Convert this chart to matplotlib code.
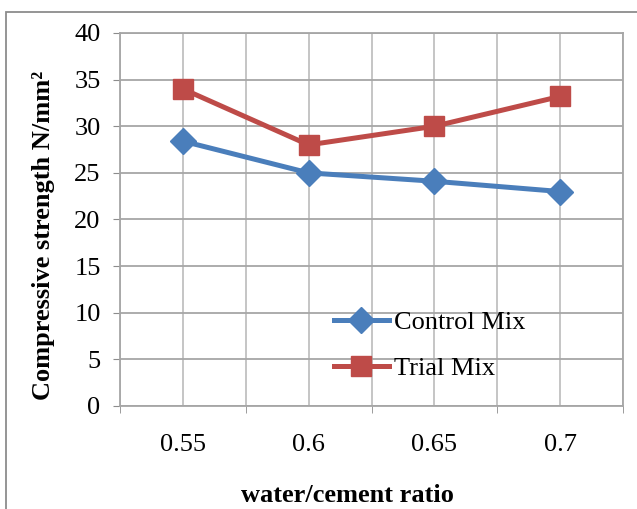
import matplotlib
matplotlib.use("Agg")
import matplotlib.pyplot as plt
from matplotlib.patches import Rectangle
from matplotlib.ticker import MultipleLocator

categories = ["0.55", "0.6", "0.65", "0.7"]
control_mix = [28.4, 25.0, 24.1, 23.0]
trial_mix = [34.0, 28.0, 30.0, 33.2]
y_ticks = [0, 5, 10, 15, 20, 25, 30, 35, 40]

plt.rcParams['font.family'] = ['Liberation Serif', 'DejaVu Serif']

W, H = 637, 509
fig = plt.figure(figsize=(W / 100, H / 100), dpi=100)
fig.patch.set_facecolor('white')

# outer chart frame
fig.patches.append(Rectangle((6 / W, -0.02), 1.05, 1 - 12 / H + 0.02,
                             transform=fig.transFigure, fill=False,
                             edgecolor='#8c8c8c', linewidth=1.3))

ax = fig.add_axes([120 / W, 1 - 406 / H, (623 - 120) / W, (406 - 33) / H])
x = list(range(len(categories)))

ax.plot(x, control_mix, color='#4A7EBB', linewidth=3.6, marker='D',
        markersize=13, label='Control Mix', zorder=3)
ax.plot(x, trial_mix, color='#BE4B48', linewidth=3.6, marker='s',
        markersize=14, label='Trial Mix', zorder=3)

ax.set_xlim(-0.5, len(categories) - 0.5)
ax.set_ylim(0, 40)
ax.set_yticks(y_ticks)
ax.set_xticks(x)
ax.set_xticklabels(categories)
ax.xaxis.set_minor_locator(MultipleLocator(0.5))
ax.grid(True, which='both', axis='x', color='#c0c0c0', linewidth=1.3)
ax.grid(True, which='major', axis='y', color='#a6a6a6', linewidth=1.3)
ax.set_axisbelow(True)

for s in ax.spines.values():
    s.set_color('#a6a6a6')
    s.set_linewidth(1.3)

ax.tick_params(axis='y', labelsize=19, length=5, color='#8c8c8c', pad=9)
ax.tick_params(axis='x', which='major', labelsize=19, length=0, pad=20)
ax.tick_params(axis='x', which='minor', length=5, color='#8c8c8c')

ax.set_ylabel('Compressive strength N/mm²', fontsize=19, fontweight='bold', labelpad=14)
ax.set_xlabel('water/cement ratio', fontsize=19, fontweight='bold', labelpad=20)
ax.yaxis.label.set_y(0.458)
ax.xaxis.label.set_x(0.452)

leg = ax.legend(loc='center left', bbox_to_anchor=(0.425, 0.162), frameon=False,
                fontsize=19, handlelength=2.1, handletextpad=0.2,
                labelspacing=0.85, borderaxespad=0, borderpad=0)

fig.savefig('out.png', dpi=100, facecolor='white')
